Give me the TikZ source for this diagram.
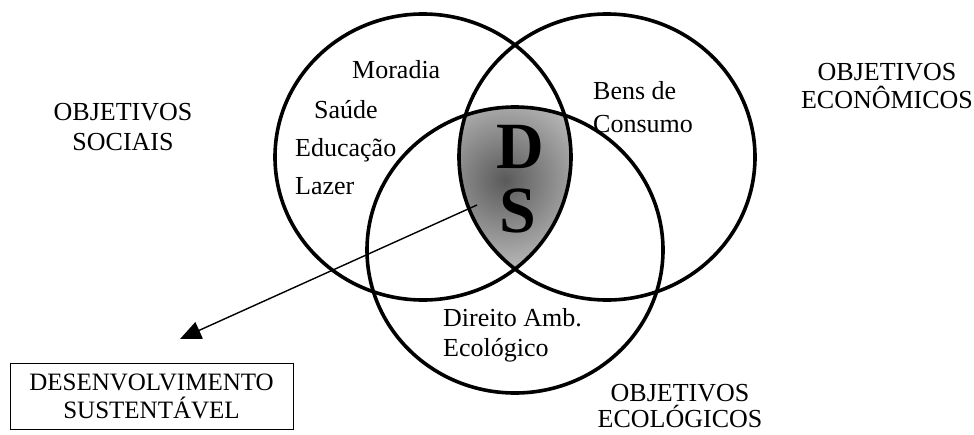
\documentclass[tikz,border=0pt]{standalone}
\usepackage{fontspec}
\setmainfont{Liberation Serif}
\usetikzlibrary{arrows.meta}
\definecolor{tinta}{HTML}{000000}
\definecolor{escuro}{HTML}{5A5A5A}
\definecolor{claro}{HTML}{BEBEBE}
\tikzset{
  anel/.style={line width=3.6pt, draw=tinta},
  rotulo/.style={inner sep=0pt, align=center, text=tinta, font=\fontsize{26}{30}\selectfont},
  item/.style={inner sep=0pt, anchor=west, text height=18pt, text depth=6pt, text=tinta, font=\fontsize{26}{30}\selectfont},
  sigla/.style={inner sep=0pt, text=tinta, font=\fontsize{66}{66}\selectfont\bfseries},
  seta/.style={-{Triangle[length=21pt,width=18pt]}, line width=1.4pt, draw=tinta},
  caixa/.style={draw=tinta, line width=1pt, minimum width=283pt, minimum height=66pt,
    inner sep=0pt, align=center, font=\fontsize{25}{28}\selectfont}
}
\newcommand{\Anel}[1]{\draw[anel] (#1) ellipse [x radius=148pt, y radius=143pt];}

\begin{document}
\begin{tikzpicture}[x=1pt, y=-1pt]
  \useasboundingbox (0,0) rectangle (974,434);
  % centros dos tres circulos
  \coordinate (soc) at (423,157);
  \coordinate (eco) at (607,157);
  \coordinate (amb) at (515,250);
  % regiao comum aos tres
  \begin{scope}
    \clip (soc) ellipse [x radius=148pt, y radius=143pt];
    \clip (eco) ellipse [x radius=148pt, y radius=143pt];
    \clip (amb) ellipse [x radius=148pt, y radius=143pt];
    \shade[inner color=escuro, outer color=claro] (505,180) circle [radius=95pt];
  \end{scope}
  \Anel{soc}
  \Anel{eco}
  \Anel{amb}
  \node[sigla] (letraD) at (520,147) {D};
  \node[sigla] (letraS) at (518,211) {S};
  % textos
  \node[rotulo] (sociais) at (123,127) {OBJETIVOS\\SOCIAIS};
  \node[rotulo, font=\fontsize{26}{28}\selectfont] (economicos) at (887,86) {OBJETIVOS\\ECONÔMICOS};
  \node[rotulo, font=\fontsize{26}{26}\selectfont] (ecologicos) at (680,406) {OBJETIVOS\\ECOLÓGICOS};
  \node[item] (moradia) at (352,72) {Moradia};
  \node[item] (saude) at (314,112) {Saúde};
  \node[item] (educacao) at (295,150) {Educação};
  \node[item] (lazer) at (295,188) {Lazer};
  \node[rotulo, anchor=west, align=left, font=\fontsize{26}{33}\selectfont] (bens) at (593,107) {Bens de\\Consumo};
  \node[rotulo, anchor=west, align=left] (direito) at (443,335) {Direito Amb.\\Ecológico};
  \node[caixa] (ds) at (151.5,396) {DESENVOLVIMENTO\\SUSTENTÁVEL};
  % seta
  \coordinate (inicio) at (477,205);
  \coordinate (ponta) at (180,339);
  \draw[seta] (inicio) -- (ponta);
\end{tikzpicture}
\end{document}
